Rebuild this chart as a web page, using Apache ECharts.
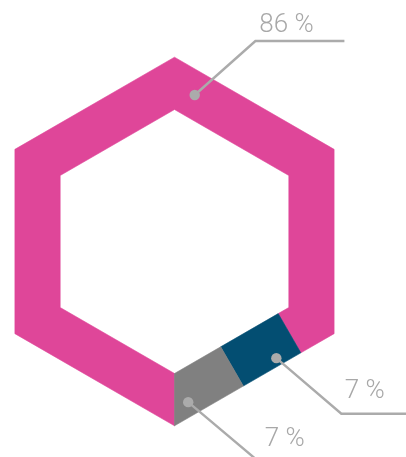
<!DOCTYPE html>
<html><head><meta charset="utf-8">
<script src="https://cdn.jsdelivr.net/npm/echarts@6/dist/echarts.min.js"></script>
<style>html,body{margin:0;padding:0;background:#fff}#chart{width:406px;height:457px}</style>
</head><body><div id="chart"></div>
<script>
// ---- data ----
const categories = ['Segment A', 'Segment B', 'Segment C'];
const values = [86, 7, 7];
const labelTexts = ['86 %', '7 %', '7 %'];

// ---- style / layout ----
const colors = ['#DF4699', '#034E72', '#808080'];
const CX = 174.5, CY = 241.5, R_OUT = 184.3, R_IN = 132;
// label anchor: t = position within slice (0..1), off = offset outward from band middle
const labelLayout = [
  { t: 0.61, off: 0,  corner: [60.7, -54], len: 89, text: [64.5, -70] },
  { t: 0.36, off: 15, corner: [65, 55.6],  len: 80, text: [68.5, 33.5] },
  { t: 0.84, off: 9,  corner: [70, 59],    len: 80, text: [76.5, 37.5] }
];
const LINE_COLOR = '#ABABAB', TEXT_COLOR = '#A8A8A8';

const D = Math.PI / 180;
const RM = (R_OUT + R_IN) / 2, L = RM, P = 6 * L;
const HALF_W = (R_OUT - R_IN) * Math.cos(30 * D) / 2;
function vtx(k, rad) {
  const a = (90 + 60 * k) * D;
  return [CX + rad * Math.cos(a), CY + rad * Math.sin(a)];
}
function normal(k) {
  const a = (120 + 60 * k) * D;
  return [Math.cos(a), Math.sin(a)];
}
function midPoint(s, off) {
  let k = Math.floor(s / L + 1e-9), t = s - k * L;
  if (k >= 6) { k = 5; t = L; }
  const a = vtx(k, RM), b = vtx(k + 1, RM), n = normal(k);
  return [a[0] + (b[0] - a[0]) * t / L + n[0] * off, a[1] + (b[1] - a[1]) * t / L + n[1] * off];
}
function cut(s) {
  const k = Math.round(s / L);
  if (Math.abs(s - k * L) < 1e-6) return [vtx(k, R_OUT), vtx(k, R_IN)];
  return [midPoint(s, HALF_W), midPoint(s, -HALF_W)];
}
const total = values.reduce((a, b) => a + b, 0);
const starts = [];
values.reduce((acc, v, i) => { starts[i] = acc; return acc + v; }, 0);

function renderItem(params, api) {
  const i = params.dataIndex;
  const v = api.value(0);
  const s0 = starts[i] / total * P, s1 = (starts[i] + v) / total * P;
  const c0 = cut(s0), c1 = cut(s1);
  const outer = [c0[0]], inner = [c0[1]];
  for (let k = 1; k <= 6; k++) {
    const sv = k * L;
    if (sv > s0 + 1e-6 && sv < s1 - 1e-6) { outer.push(vtx(k, R_OUT)); inner.push(vtx(k, R_IN)); }
  }
  outer.push(c1[0]); inner.push(c1[1]);
  const pts = outer.concat(inner.reverse());
  const lay = labelLayout[i];
  const dot = midPoint(s0 + lay.t * (s1 - s0), lay.off);
  const corner = [dot[0] + lay.corner[0], dot[1] + lay.corner[1]];
  const color = colors[i];
  return {
    type: 'group',
    children: [
      { type: 'polygon', shape: { points: pts }, style: { fill: color, stroke: color, lineWidth: 0.6 } },
      { type: 'polyline', z2: 10, shape: { points: [dot, corner, [corner[0] + lay.len, corner[1]]] },
        style: { stroke: LINE_COLOR, lineWidth: 2.4, fill: null } },
      { type: 'circle', z2: 11, shape: { cx: dot[0], cy: dot[1], r: 5.2 }, style: { fill: LINE_COLOR } },
      { type: 'text', z2: 12, x: dot[0] + lay.text[0], y: dot[1] + lay.text[1],
        style: { text: labelTexts[i], fill: TEXT_COLOR, font: '300 26px Roboto', textAlign: 'left', textVerticalAlign: 'middle' } }
    ]
  };
}

const chart = echarts.init(document.getElementById('chart'), null, { renderer: 'canvas' });
chart.setOption({
  animation: false,
  backgroundColor: '#ffffff',
  series: [{
    type: 'custom',
    coordinateSystem: 'none',
    renderItem: renderItem,
    data: values.map((v, i) => ({ name: categories[i], value: [v] }))
  }]
});
</script></body></html>
